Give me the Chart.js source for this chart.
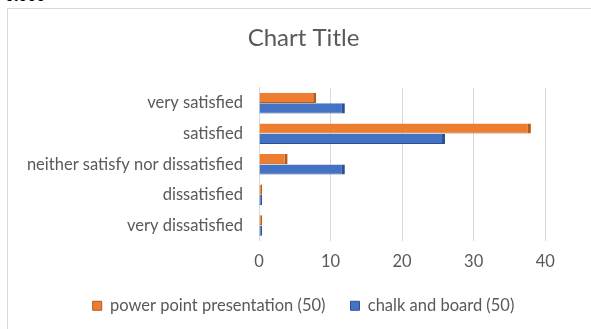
<!DOCTYPE html>
<html>
<head>
<meta charset="utf-8">
<script src="https://cdn.jsdelivr.net/npm/chart.js@4.4.0/dist/chart.umd.min.js"></script>
<style>
    body { margin: 0; background: #fff; overflow: hidden; }
    #top { position: absolute; left: 5px; top: -13px; font: bold 16px "Liberation Sans", sans-serif; color: #000; }
    #frame { position: absolute; left: 7px; top: 8px; width: 600px; height: 330px; border: 1px solid #d9d9d9; }
    #wrap { position: absolute; left: 0; top: 0; width: 591px; height: 329px; }
</style>
</head>
<body>
<div id="top">0.000</div>
<div id="frame"></div>
<div id="wrap"><canvas id="myChart" width="591" height="329"></canvas></div>
<script>
// survey answers, top to bottom as in the chart
const categories = ["very satisfied", "satisfied", "neither satisfy nor dissatisfied", "dissatisfied", "very dissatisfied"];
const powerPoint = [8, 38, 4, 0, 0];
const chalkBoard = [12, 26, 12, 0, 0];
const xTicks = [0, 10, 20, 30, 40];

const grey = "#595959";
const font = "Lato";

var ctx = document.getElementById('myChart').getContext('2d');

var myChart = new Chart(ctx, {
    type: 'bar',
    data: {
        labels: categories,
        datasets: [{
            label: 'power point presentation (50)',
            data: powerPoint,
            backgroundColor: '#ED7D31',
            borderColor: '#b35a1c',
            borderWidth: { top: 0, right: 3, bottom: 1, left: 0 },
            borderSkipped: false,
            minBarLength: 3
        }, {
            label: 'chalk and board (50)',
            data: chalkBoard,
            backgroundColor: '#4472C4',
            borderColor: '#2c5190',
            borderWidth: { top: 0, right: 3, bottom: 1, left: 0 },
            borderSkipped: false,
            minBarLength: 3
        }]
    },
    options: {
        indexAxis: 'y',
        responsive: false,
        animation: false,
        categoryPercentage: 0.68,
        barPercentage: 0.98,
        layout: { padding: { top: 10, left: 16, right: 0, bottom: 6 } },
        scales: {
            x: {
                min: 0,
                max: 46.4,
                afterBuildTicks: (scale) => { scale.ticks = xTicks.map(v => ({ value: v })); },
                afterFit: (scale) => { scale.height = 31.75; },
                grid: { color: '#d9d9d9', drawTicks: false },
                border: { display: false },
                ticks: { color: grey, padding: 11, font: { family: font, size: 16.5 } }
            },
            y: {
                afterFit: (scale) => { scale.width = 243; },
                grid: { display: false, drawTicks: false },
                border: { color: '#d9d9d9' },
                ticks: { color: grey, padding: 16, font: { family: font, size: 16.5 } }
            }
        },
        plugins: {
            title: {
                display: true,
                text: 'Chart Title',
                color: grey,
                font: { family: font, size: 24, weight: 'normal' },
                padding: { top: 14, bottom: 35 }
            },
            legend: {
                position: 'bottom',
                maxHeight: 50.5,
                labels: {
                    color: grey,
                    boxWidth: 9,
                    boxHeight: 9,
                    padding: 25,
                    font: { family: font, size: 16.5 }
                }
            },
            tooltip: { enabled: false }
        }
    }
});
</script>
</body>
</html>
